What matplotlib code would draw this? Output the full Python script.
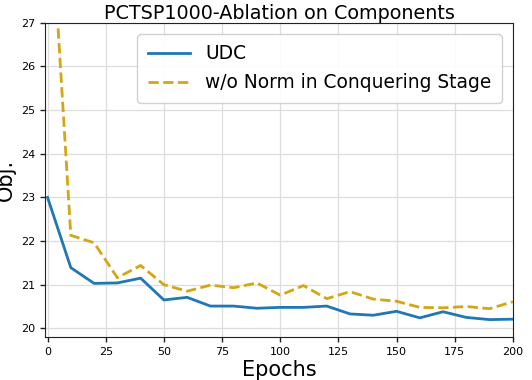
import matplotlib
matplotlib.use("Agg")
import matplotlib.pyplot as plt

epochs = list(range(0, 201, 10))
udc = [23.0, 21.39, 21.03, 21.04, 21.15, 20.65, 20.71, 20.51, 20.51, 20.46, 20.48,
       20.48, 20.51, 20.33, 20.30, 20.39, 20.24, 20.38, 20.25, 20.20, 20.21]
wo_norm = [30.8, 22.13, 21.96, 21.16, 21.44, 21.00, 20.85, 20.99, 20.93, 21.04, 20.76,
           20.98, 20.68, 20.84, 20.67, 20.62, 20.48, 20.47, 20.50, 20.45, 20.61]
xticks = [0, 25, 50, 75, 100, 125, 150, 175, 200]
yticks = [20, 21, 22, 23, 24, 25, 26, 27]

fig, ax = plt.subplots(figsize=(5.32, 3.8), dpi=100)
fig.subplots_adjust(left=0.085, right=0.964, top=0.94, bottom=0.113)

ax.plot(epochs, udc, color="#1f77b4", linewidth=2.0, label="UDC")
ax.plot(epochs, wo_norm, color="#d4a514", linewidth=2.0, linestyle="--",
        label="w/o Norm in Conquering Stage")

ax.set_xlim(-1, 200)
ax.set_ylim(19.8, 27)
ax.set_xticks(xticks)
ax.set_yticks(yticks)
ax.tick_params(labelsize=8, direction="out", length=3.5, width=1.0, color="#222222")
ax.grid(True, color="#dddddd", linewidth=0.9)
for s in ax.spines.values():
    s.set_color("#222222")

ax.set_xlabel("Epochs", fontsize=15, labelpad=2)
ax.set_ylabel("Obj.", fontsize=15, labelpad=4)
ax.set_title("PCTSP1000-Ablation on Components", fontsize=13.8, pad=3)
ax.legend(loc="upper right", fontsize=13.4, handlelength=2.3, borderaxespad=0.6,
          borderpad=0.55, labelspacing=0.55, framealpha=0.9)

fig.savefig("out.png", dpi=100)
